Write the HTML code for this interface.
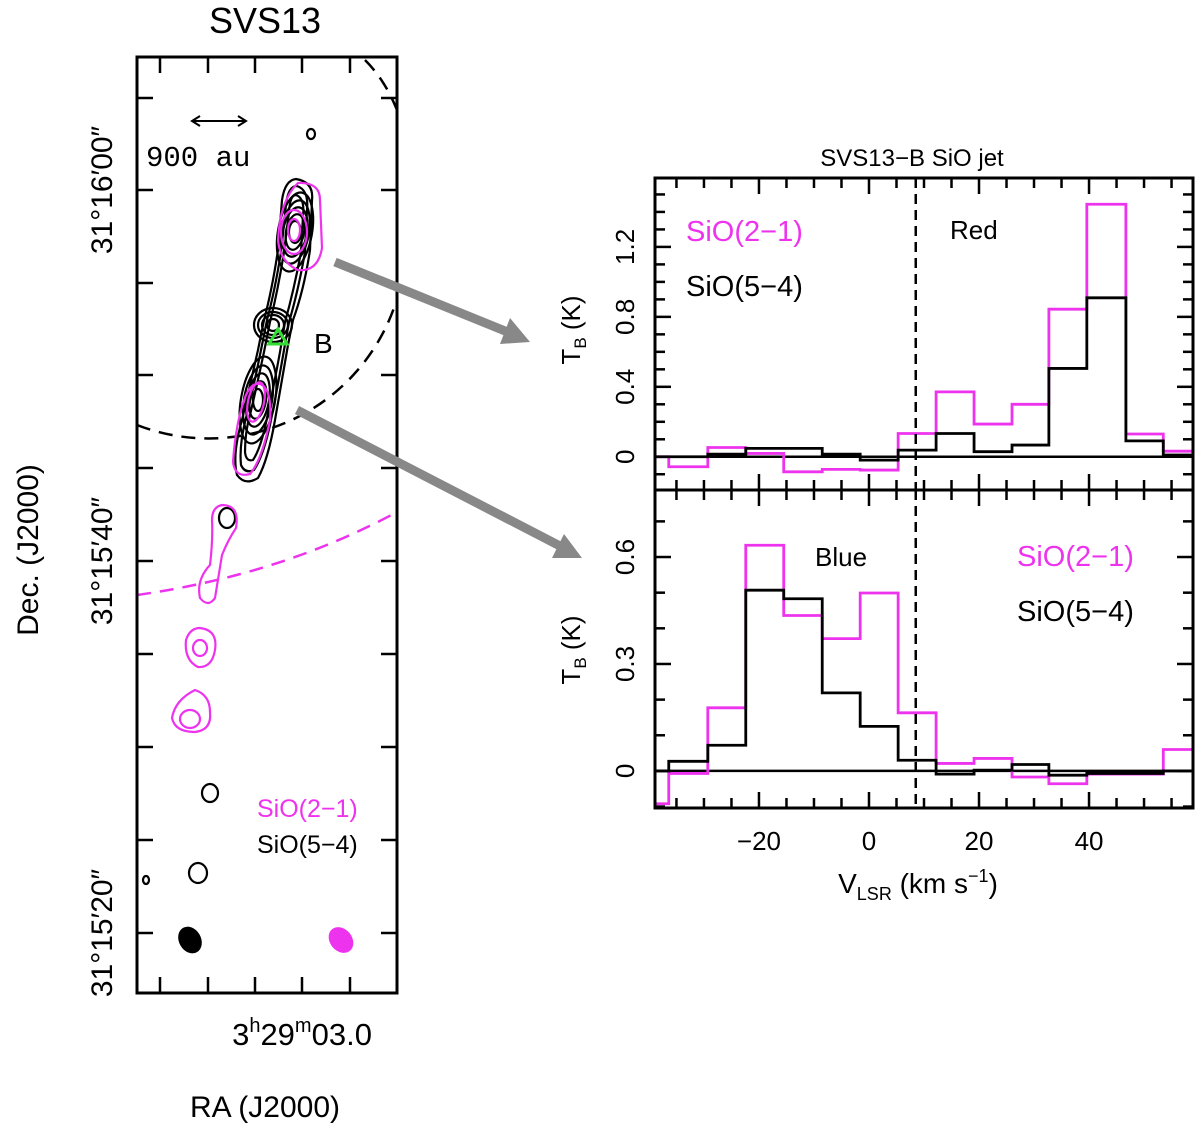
<!DOCTYPE html>
<html><head><meta charset="utf-8"><style>
body{margin:0;background:#fff;}
svg{display:block;font-family:"Liberation Sans","DejaVu Sans",sans-serif;}
</style></head><body>
<svg id="fig" width="1200" height="1131" viewBox="0 0 1200 1131" xmlns="http://www.w3.org/2000/svg">
<g id="map">
<text x="265" y="33" font-size="36" text-anchor="middle">SVS13</text>
<path d="M137,425 A197,197 0 0 0 395,305" fill="none" stroke="#000" stroke-width="2.5" stroke-dasharray="14,9"/>
<path d="M365,60 Q385,80 397,110" fill="none" stroke="#000" stroke-width="2.5" stroke-dasharray="14,9"/>
<path d="M137,595 Q280,575 397,512" fill="none" stroke="#ee33ee" stroke-width="2.5" stroke-dasharray="14,9"/>
<g fill="none" stroke="#000" stroke-width="2.2">
<path d="M296,179 Q314,182 312,200 L310,250 Q304,290 293,320 L288,345 Q282,380 275,420 Q268,460 258,478 Q245,486 237,475 Q232,455 242,420 Q250,385 258,350 L264,320 Q272,290 278,250 L282,200 Q285,180 296,179Z"/>
<path d="M297,186 Q309,190 307,210 L305,252 Q298,292 289,322 L284,350 Q278,385 271,420 Q264,455 254,470 Q245,474 241,465 Q239,445 246,418 Q254,385 261,350 L267,320 Q275,290 281,252 L286,205 Q288,186 297,186Z"/>
<path d="M296,195 Q305,198 303,216 L301,252 Q294,290 285,322 L280,352 Q274,385 267,418 Q261,448 253,460 Q246,462 245,452 Q245,432 250,415 Q257,385 264,352 L270,322 Q278,290 284,252 L289,212 Q290,195 296,195Z"/>
<ellipse cx="295" cy="232" rx="17" ry="40" transform="rotate(10 295 232)"/>
<ellipse cx="295" cy="232" rx="14" ry="32" transform="rotate(10 295 232)"/>
<ellipse cx="295" cy="232" rx="12" ry="25" transform="rotate(10 295 232)"/>
<ellipse cx="295" cy="232" rx="9" ry="18" transform="rotate(10 295 232)"/>
<ellipse cx="295" cy="232" rx="6" ry="11"/>
<ellipse cx="273" cy="325" rx="19" ry="17"/>
<ellipse cx="273" cy="325" rx="15" ry="13"/>
<ellipse cx="273" cy="325" rx="11" ry="10"/>
<ellipse cx="273" cy="325" rx="6" ry="6"/>
<ellipse cx="258" cy="400" rx="17" ry="44" transform="rotate(10 258 400)"/>
<ellipse cx="258" cy="400" rx="14" ry="35" transform="rotate(10 258 400)"/>
<ellipse cx="258" cy="400" rx="11" ry="27" transform="rotate(10 258 400)"/>
<ellipse cx="258" cy="400" rx="8" ry="19" transform="rotate(10 258 400)"/>
<ellipse cx="258" cy="400" rx="5" ry="11"/>
<ellipse cx="311" cy="134" rx="4" ry="5"/>
<ellipse cx="227" cy="518" rx="8" ry="10"/>
<ellipse cx="210" cy="793" rx="8" ry="9"/>
<ellipse cx="198" cy="873" rx="9" ry="10"/>
<ellipse cx="146" cy="880" rx="3" ry="4"/>
</g>
<g fill="none" stroke="#ee33ee" stroke-width="2.2">
<path d="M298,183 Q320,182 320,200 L322,248 Q318,272 298,270 Q280,262 278,240 Q280,200 298,183Z"/>
<ellipse cx="294" cy="232" rx="13" ry="22"/>
<ellipse cx="294" cy="230" rx="6" ry="11"/>
<path d="M260,384 Q272,388 270,420 Q262,460 250,474 Q235,478 233,462 Q236,420 246,395 Q252,382 260,384Z"/>
<ellipse cx="256" cy="402" rx="8" ry="20" transform="rotate(12 256 402)"/>
<path d="M222,505 Q240,505 236,528 Q228,540 222,555 Q218,580 215,598 Q208,608 200,598 Q196,580 210,565 Q213,540 212,520 Q212,507 222,505Z"/>
<path d="M200,628 Q218,630 215,650 Q212,668 198,667 Q184,660 186,640 Q190,628 200,628Z"/>
<ellipse cx="200" cy="648" rx="7" ry="8"/>
<path d="M195,690 Q210,695 210,712 Q212,730 195,732 Q175,732 172,718 Q175,700 195,690Z"/>
<ellipse cx="190" cy="719" rx="10" ry="9"/>
</g>
<ellipse cx="190" cy="940" rx="11" ry="14" transform="rotate(-30 190 940)" fill="#000"/>
<ellipse cx="341" cy="940" rx="11" ry="14" transform="rotate(-40 341 940)" fill="#ee33ee"/>
<polygon points="278,329 269,344 287,344" fill="none" stroke="#33dd33" stroke-width="3"/>
<text x="314" y="353" font-size="28">B</text>
<g>
<line x1="192" y1="121" x2="246" y2="121" stroke="#000" stroke-width="2"/>
<path d="M200,116 L192,121 L200,126 M238,116 L246,121 L238,126" fill="none" stroke="#000" stroke-width="2"/>
<text x="146" y="166" font-size="29" font-family="Liberation Mono, monospace">900 au</text>
</g>
<text x="257" y="817" font-size="25" fill="#ee33ee">SiO(2−1)</text>
<text x="257" y="853" font-size="25" fill="#000">SiO(5−4)</text>
<rect x="137" y="57" width="260" height="936" fill="none" stroke="#000" stroke-width="3"/>
<g id="mapTicks" stroke="#000" stroke-width="2.5"></g>
<g font-size="30" text-anchor="middle">
<text transform="translate(112,190) rotate(-90)">31°16′00″</text>
<text transform="translate(112,561) rotate(-90)">31°15′40″</text>
<text transform="translate(112,933) rotate(-90)">31°15′20″</text>
</g>
<text transform="translate(38,550) rotate(-90)" font-size="30" text-anchor="middle">Dec. (J2000)</text>
<text x="302" y="1045" font-size="31" text-anchor="middle">3<tspan font-size="20" dy="-13">h</tspan><tspan dy="13">29</tspan><tspan font-size="20" dy="-13">m</tspan><tspan dy="13">03.0</tspan></text>
<text x="265" y="1117" font-size="30" text-anchor="middle">RA (J2000)</text>
</g>
<g fill="#888" stroke="#888">
<line x1="335" y1="262" x2="510" y2="333" stroke-width="9"/>
<polygon points="530,342 500,344 510,318" stroke="none"/>
<line x1="297" y1="410" x2="560" y2="546" stroke-width="9"/>
<polygon points="582,558 552,558 564,534" stroke="none"/>
</g>
<text x="912" y="166" font-size="24" text-anchor="middle">SVS13−B SiO jet</text>
<g id="spec"></g>
</svg>
<script>
const channelEdges = [-38.9,-36.4,-29.3,-22.4,-15.5,-8.5,-1.6,5.3,12.2,19.1,26.0,32.7,39.6,46.7,53.5,58.9];
const redSio21 = [0,-0.057,0.053,0.019,-0.086,-0.072,-0.076,0.133,0.371,0.187,0.30,0.844,1.444,0.13,0.032];
const redSio54 = [0,0,0.015,0.048,0.048,0.015,-0.019,0.038,0.133,0.029,0.067,0.505,0.909,0.091,0.01];
const blueSio21 = [-0.092,-0.007,0.177,0.633,0.436,0.371,0.499,0.163,0.021,0.035,-0.017,-0.036,-0.009,-0.009,0.06];
const blueSio54 = [0,0.027,0.072,0.507,0.483,0.219,0.125,0.03,-0.009,0.002,0.018,-0.012,-0.007,-0.007,0];
const xTicks = [-20,0,20,40];
const redYTicks = [0,0.4,0.8,1.2];
const blueYTicks = [0,0.3,0.6];
const systemicV = 8.5;

const NS='http://www.w3.org/2000/svg';
const spec=document.getElementById('spec');
const X0=655,X1=1193,VMIN=-38.9,VMAX=58.9;
function xs(v){return X0+(v-VMIN)/(VMAX-VMIN)*(X1-X0);}
function mk(tag,attrs,parent){const e=document.createElementNS(NS,tag);for(const k in attrs)e.setAttribute(k,attrs[k]);(parent||spec).appendChild(e);return e;}

function panel(top,bot,ymin,ymax,s21,s54,yt,minorStep,name){
  const ys=v=>bot-(v-ymin)/(ymax-ymin)*(bot-top);
  const g=mk('g',{});
  
  
  mk('line',{x1:X0,x2:X1,y1:ys(0),y2:ys(0),stroke:'#000','stroke-width':2.5},g);
  function hist(vals,color,nm){
    let d='';
    for(let i=0;i<vals.length;i++){
      const xa=xs(channelEdges[i]),xb=xs(channelEdges[i+1]),y=ys(vals[i]);
      d+=(i===0?'M':'L')+xa+','+y+' L'+xb+','+y+' ';
    }
    const p=mk('path',{d:d,fill:'none',stroke:color,'stroke-width':2.8},g);
    
    
  }
  hist(s21,'#ee33ee',name+'-sio21');
  hist(s54,'#000',name+'-sio54');
  const dl=mk('line',{x1:xs(systemicV),x2:xs(systemicV),y1:top,y2:bot,stroke:'#000','stroke-width':2.5,'stroke-dasharray':'10,6'},g);
  
  
  for(let v=-35;v<=55;v+=5){
    const x=xs(v),len=(v%20===0)?16:10;
    mk('line',{x1:x,x2:x,y1:top,y2:top+len,stroke:'#000','stroke-width':2.5},g);
    mk('line',{x1:x,x2:x,y1:bot,y2:bot-len,stroke:'#000','stroke-width':2.5},g);
  }
  for(let v=Math.ceil(ymin/minorStep)*minorStep;v<=ymax;v+=minorStep){
    const y=ys(v);
    const major=yt.some(t=>Math.abs(t-v)<1e-6);
    const len=major?16:10;
    mk('line',{x1:X0,x2:X0+len,y1:y,y2:y,stroke:'#000','stroke-width':2.5},g);
    mk('line',{x1:X1,x2:X1-len,y1:y,y2:y,stroke:'#000','stroke-width':2.5},g);
  }
  yt.forEach(t=>{
    const tx=mk('text',{transform:'translate(634,'+ys(t)+') rotate(-90)','font-size':26,'text-anchor':'middle'},g);
    tx.textContent=String(t);
    
    
  });
  const fr=mk('rect',{x:X0,y:top,width:X1-X0,height:bot-top,fill:'none',stroke:'#000','stroke-width':3},g);
  
  
  return ys;
}
panel(178,490,-0.19,1.594,redSio21,redSio54,redYTicks,0.1,'red-panel');
panel(490,808,-0.104,0.788,blueSio21,blueSio54,blueYTicks,0.1,'blue-panel');

xTicks.forEach(v=>{
  const t=mk('text',{x:xs(v),y:850,'font-size':26,'text-anchor':'middle'});
  t.textContent=v<0?'−'+Math.abs(v):String(v);
  
  
});
function txt(x,y,s,size,color,anchor,nm){
  const t=mk('text',{x:x,y:y,'font-size':size,fill:color,'text-anchor':anchor||'start'});
  t.textContent=s;
  
  
  return t;
}
txt(686,241,'SiO(2−1)',29,'#ee33ee','start','red-legend-sio21');
txt(686,296,'SiO(5−4)',29,'#000','start','red-legend-sio54');
txt(950,239,'Red',26,'#000','start','red-label');
txt(815,566,'Blue',26,'#000','start','blue-label');
txt(1017,566,'SiO(2−1)',29,'#ee33ee','start','blue-legend-sio21');
txt(1017,621,'SiO(5−4)',29,'#000','start','blue-legend-sio54');
function ytitle(y,nm){
  const t=mk('text',{transform:'translate(580,'+y+') rotate(-90)','font-size':26,'text-anchor':'middle'});
  t.innerHTML='T<tspan font-size="17" dy="6">B</tspan><tspan dy="-6"> (K)</tspan>';
  
  
}
ytitle(330,'red-y-axis-title');
ytitle(650,'blue-y-axis-title');
const xt=mk('text',{x:918,y:893,'font-size':28,'text-anchor':'middle'});
xt.innerHTML='V<tspan font-size="18" dy="7">LSR</tspan><tspan dy="-7"> (km s</tspan><tspan font-size="18" dy="-11">−1</tspan><tspan dy="11">)</tspan>';



const mt=document.getElementById('mapTicks');
const decTicks=[98,190,283,375,468,561,654,747,840,933];
const raTicks=[160,208,255,302,350];
decTicks.forEach(y=>{
  mk('line',{x1:137,x2:153,y1:y,y2:y},mt);
  mk('line',{x1:397,x2:381,y1:y,y2:y},mt);
});
raTicks.forEach(x=>{
  mk('line',{x1:x,x2:x,y1:57,y2:73},mt);
  mk('line',{x1:x,x2:x,y1:993,y2:977},mt);
});
</script>
</body></html>
